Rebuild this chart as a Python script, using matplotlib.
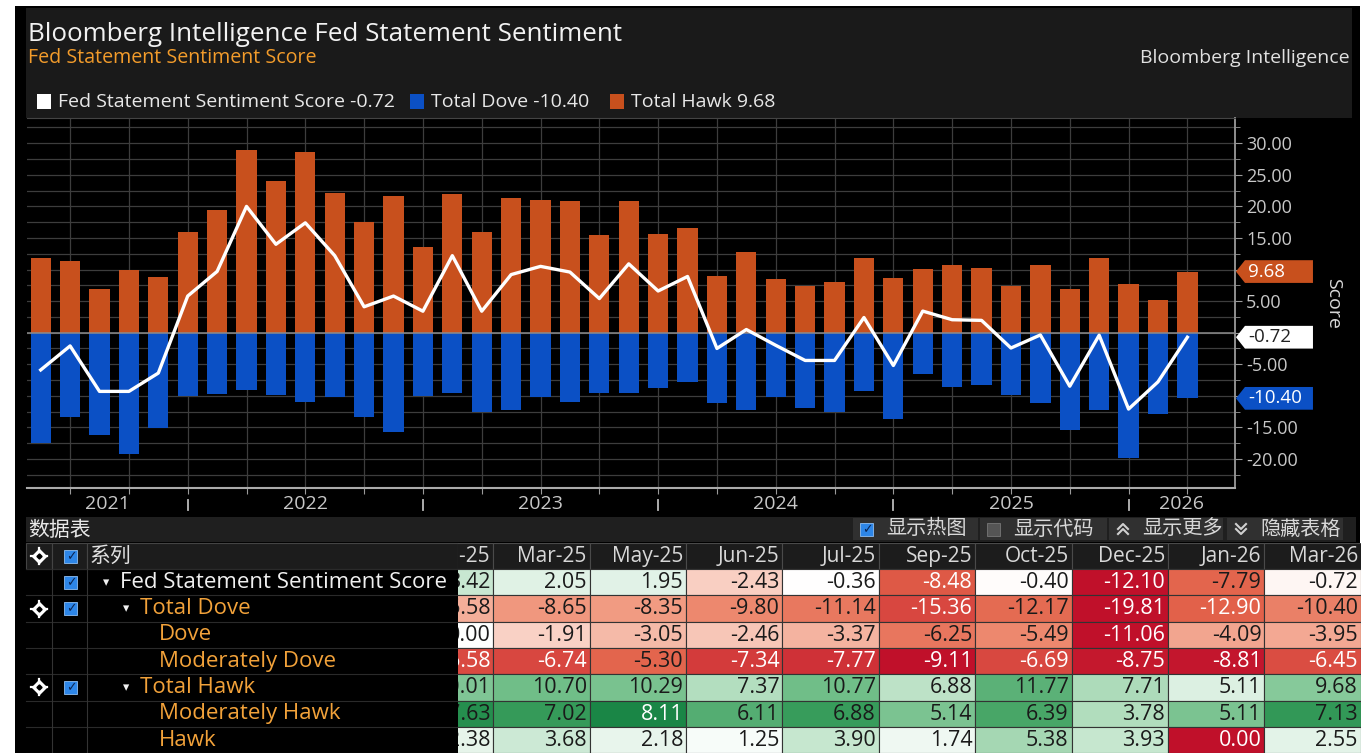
import numpy as np
import matplotlib.pyplot as plt
from matplotlib.colors import LinearSegmentedColormap, TwoSlopeNorm
from matplotlib.patches import Rectangle, Polygon
from matplotlib.transforms import blended_transform_factory

plt.rcParams['font.family'] = ['Open Sans', 'DejaVu Sans']
CJK = ['Noto Sans CJK SC', 'DejaVu Sans']

# ---------------- data ----------------
meetings = ['Apr-21', 'Jun-21', 'Jul-21', 'Sep-21', 'Nov-21', 'Dec-21',
            'Jan-22', 'Mar-22', 'May-22', 'Jun-22', 'Jul-22', 'Sep-22', 'Nov-22', 'Dec-22',
            'Feb-23', 'Mar-23', 'May-23', 'Jun-23', 'Jul-23', 'Sep-23', 'Nov-23', 'Dec-23',
            'Jan-24', 'Mar-24', 'May-24', 'Jun-24', 'Jul-24', 'Sep-24', 'Nov-24', 'Dec-24',
            'Jan-25', 'Mar-25', 'May-25', 'Jun-25', 'Jul-25', 'Sep-25', 'Oct-25', 'Dec-25',
            'Jan-26', 'Mar-26']

# (Apr-21 .. Dec-24)
hawk_early = [11.8, 11.4, 6.9, 9.9, 8.8, 16.0,
              19.5, 29.0, 24.0, 28.6, 22.2, 17.6, 21.6, 13.5,
              22.0, 16.0, 21.4, 21.0, 20.8, 15.4, 20.8, 15.6,
              16.6, 9.0, 12.8, 8.5, 7.4, 8.1, 11.8, 8.6]
dove_early = [-17.5, -13.4, -16.2, -19.2, -15.1, -10.1,
              -9.7, -9.0, -9.8, -11.0, -10.2, -13.4, -15.8, -10.1,
              -9.6, -12.5, -12.2, -10.2, -11.0, -9.6, -9.6, -8.8,
              -7.8, -11.2, -12.2, -10.2, -11.9, -12.6, -9.2, -13.6]
score_early = [-5.9, -2.1, -9.3, -9.3, -6.4, 5.8,
               9.7, 20.0, 14.0, 17.4, 12.2, 4.1, 5.8, 3.4,
               12.2, 3.4, 9.2, 10.5, 9.6, 5.4, 10.9, 6.6,
               8.9, -2.5, 0.5, -2.0, -4.4, -4.4, 2.4, -5.2]

# data table (Jan-25 .. Mar-26)
table_cols = meetings[30:]
tbl_score = [3.42, 2.05, 1.95, -2.43, -0.36, -8.48, -0.40, -12.10, -7.79, -0.72]
tbl_total_dove = [-6.58, -8.65, -8.35, -9.80, -11.14, -15.36, -12.17, -19.81, -12.90, -10.40]
tbl_dove = [0.00, -1.91, -3.05, -2.46, -3.37, -6.25, -5.49, -11.06, -4.09, -3.95]
tbl_mod_dove = [-6.58, -6.74, -5.30, -7.34, -7.77, -9.11, -6.69, -8.75, -8.81, -6.45]
tbl_total_hawk = [10.01, 10.70, 10.29, 7.37, 10.77, 6.88, 11.77, 7.71, 5.11, 9.68]
tbl_mod_hawk = [7.63, 7.02, 8.11, 6.11, 6.88, 5.14, 6.39, 3.78, 5.11, 7.13]
tbl_hawk = [2.38, 3.68, 2.18, 1.25, 3.90, 1.74, 5.38, 3.93, 0.00, 2.55]
row_labels = ['Fed Statement Sentiment Score', 'Total Dove', 'Dove', 'Moderately Dove',
              'Total Hawk', 'Moderately Hawk', 'Hawk']

hawk = hawk_early + tbl_total_hawk
dove = dove_early + tbl_total_dove
score = score_early + tbl_score
table_rows = [tbl_score, tbl_total_dove, tbl_dove, tbl_mod_dove,
              tbl_total_hawk, tbl_mod_hawk, tbl_hawk]

# ---------------- style ----------------
ORANGE = '#c8501d'
BLUE = '#0b50c5'
ORANGE_TXT = '#f2a23a'
GRID = '#3d3d3d'
W, H = 1370, 753

fig = plt.figure(figsize=(W / 100, H / 100), dpi=100, facecolor='white')

# background layer in pixel coordinates
bg = fig.add_axes([0, 0, 1, 1], zorder=0)
bg.set_xlim(0, W)
bg.set_ylim(H, 0)
bg.axis('off')


def box(x, y, w, h, fc, ec='none', lw=0, z=1):
    bg.add_patch(Rectangle((x, y), w, h, facecolor=fc, edgecolor=ec, linewidth=lw, zorder=z))


box(15, 6, 1345, 747, '#000000', z=0)
box(26, 8, 1326, 110, '#1a1a1a')

bg.text(28, 34, 'Bloomberg Intelligence Fed Statement Sentiment', fontsize=18.7,
        color='#f2f2f2', va='center')
bg.text(28, 58, 'Fed Statement Sentiment Score', fontsize=14.1, color='#f39c2b', va='center')
bg.text(1350, 58, 'Bloomberg Intelligence', fontsize=14, color='#e0e0e0', va='center', ha='right')

legend_items = [('Fed Statement Sentiment Score', score[-1], 'white', 37),
                ('Total Dove', dove[-1], BLUE, 410),
                ('Total Hawk', hawk[-1], ORANGE, 610)]
for name, v, c, x0 in legend_items:
    box(x0, 94, 14, 15, c, z=2)
    bg.text(x0 + 21, 101.5, f'{name} {v:.2f}', fontsize=14, color='#e8e8e8', va='center')

# ---------------- chart ----------------
ax = fig.add_axes([27 / W, (H - 488) / H, (1235 - 27) / W, 370 / H], zorder=2)
ax.set_facecolor('black')
x = np.arange(len(meetings))
ax.bar(x, hawk, 0.69, color=ORANGE, zorder=2)
ax.bar(x, dove, 0.69, color=BLUE, zorder=2)
ax.axhline(0, color='#8c8c8c', lw=1.1, zorder=3)
ax.plot(x, score, color='white', lw=2.4, zorder=4)

tag_vals = [hawk[-1], score[-1], dove[-1]]
major = np.arange(-20, 31, 5)
ax.set_yticks(major)
ax.set_yticklabels(['' if min(abs(m - t) for t in tag_vals) < 2.5 else f'{m:.2f}' for m in major])
ax.set_yticks(np.arange(-22.5, 34, 5), minor=True)
ax.yaxis.tick_right()
ax.set_xticks(x[1::2])
ax.grid(axis='y', which='both', color=GRID, lw=0.9)
ax.grid(axis='x', which='major', color=GRID, lw=0.9)
ax.set_axisbelow(True)
ax.tick_params(axis='x', length=4, color='#9a9a9a', labelbottom=False)
ax.tick_params(axis='y', which='major', length=5, color='#9a9a9a', labelcolor='#c8c8c8',
               labelsize=13, pad=3)
ax.tick_params(axis='y', which='minor', length=3.5, color='#9a9a9a')
ax.spines['left'].set_visible(False)
ax.spines['top'].set_color('#444444')
ax.spines['right'].set_color('#9a9a9a')
ax.spines['right'].set_linewidth(1.3)
ax.spines['bottom'].set_color('#aaaaaa')
ax.spines['bottom'].set_linewidth(1.5)
ax.set_ylabel('Score', rotation=270, color='#d8d8d8', fontsize=14, va='center', ha='center')
ax.yaxis.set_label_coords(1.081, 0.5)

XL = (-0.466, 40.62)
bt = blended_transform_factory(ax.transData, ax.transAxes)
years = [int('20' + m[-2:]) for m in meetings]
bounds = [i for i in range(len(years) - 1) if years[i + 1] != years[i]]
edges = [XL[0]] + bounds + [XL[1]]
for j, yr in enumerate(sorted(set(years))):
    ax.text((edges[j] + edges[j + 1]) / 2, -0.043, str(yr), transform=bt, ha='center',
            va='center', fontsize=14, color='#c8c8c8', clip_on=False)
for b in bounds:
    ax.plot([b, b], [-0.033, -0.060], transform=bt, color='#bbbbbb', lw=1.3, clip_on=False)

# last-value tags on the right axis
tt = blended_transform_factory(ax.transAxes, ax.transData)
for v, fc, tc in [(hawk[-1], ORANGE, 'white'), (score[-1], 'white', '#222222'),
                  (dove[-1], BLUE, 'white')]:
    x0, xb, x1, h = 1.0008, 1.0008 + 9 / 1208, 1.0008 + 77 / 1208, 1.8
    ax.add_patch(Polygon([(x0, v), (xb, v + h), (x1, v + h), (x1, v - h), (xb, v - h)],
                         closed=True, transform=tt, facecolor=fc, edgecolor='none',
                         clip_on=False, zorder=5))
    ax.text(x0 + 12 / 1208, v, f'{v:.2f}', transform=tt, color=tc, fontsize=13.5,
            va='center', ha='left', clip_on=False, zorder=6)

ax.set_xlim(*XL)
ax.set_ylim(-24.6, 34.0)

# ---------------- data table ----------------
ROW_Y0, ROW_H = 569, 26.3
box(26, 517, 1330, 25, '#1f1f1f')
bg.text(28, 530, '数据表', family=CJK, fontsize=15, color='#e8e8e8', va='center')


def icon(xc, yc):
    bg.plot([xc - 8, xc + 8], [yc, yc], color='white', lw=1.6, zorder=3)
    bg.plot([xc, xc], [yc - 8, yc + 8], color='white', lw=1.6, zorder=3)
    bg.plot(xc, yc, marker='D', ms=7, mfc='white', mec='white', zorder=4)
    bg.plot(xc, yc, marker='D', ms=2.6, mfc='black', mec='black', zorder=5)


def checkbox(xc, yc, fc='#2d86e8', check=True):
    box(xc - 6.5, yc - 6.5, 13, 13, fc, '#8fbff2' if check else '#777777', 0.6, z=3)
    if check:
        bg.text(xc, yc + 0.5, '\u2713', family='DejaVu Sans', fontsize=9, weight='bold',
                color='#0b2552', ha='center', va='center', zorder=4)


buttons = [(853, 125, '显示热图', 'on'), (980, 127, '显示代码', 'off'),
           (1109, 114, '显示更多', 'up'), (1227, 116, '隐藏表格', 'down')]
for bx, bw, label, kind in buttons:
    box(bx, 518, bw, 22, '#303030', z=2)
    cx, cy = bx + 14, 529
    if kind == 'on':
        checkbox(cx, cy)
    elif kind == 'off':
        checkbox(cx, cy, fc='#555555', check=False)
    else:
        s = -1 if kind == 'up' else 1
        for off in (-2.5, 2.5):
            bg.plot([cx - 5, cx, cx + 5], [cy + off - 2.5 * s, cy + off + 2.5 * s, cy + off - 2.5 * s],
                    color='#d0d0d0', lw=1.5, zorder=3)
    bg.text(bx + 33, 529, label, family=CJK, fontsize=14.5, color='#d8d8d8', va='center', zorder=3)

# left part of the table
for x0, x1 in [(26, 52), (52, 87), (87, 457.6)]:
    box(x0, 543, x1 - x0, 26, '#1c1c1c', '#444444', 0.8, z=2)
icon(39, 556)
checkbox(71, 556)
bg.text(90, 556, '系列', family=CJK, fontsize=15, color='#e0e0e0', va='center', zorder=3)
for i in range(len(row_labels) + 1):
    bg.plot([26, 457.6], [ROW_Y0 + ROW_H * i] * 2, color='#2a2a2a', lw=0.8, zorder=2)
for xv in (52, 87):
    bg.plot([xv, xv], [ROW_Y0, H], color='#333333', lw=0.8, zorder=2)

# (level, has caret, has icon, has checkbox) per row
row_style = [(0, True, False, True), (1, True, True, True), (2, False, False, False),
             (2, False, False, False), (1, True, True, True), (2, False, False, False),
             (2, False, False, False)]
text_x = {0: 120, 1: 140, 2: 159}
for i, (label, (lvl, caret, ic, cb)) in enumerate(zip(row_labels, row_style)):
    yc = ROW_Y0 + ROW_H * i + 13.2
    col = '#f0f0f0' if lvl == 0 else ORANGE_TXT
    if ic:
        icon(39, yc)
    if cb:
        checkbox(71, yc)
    if caret:
        bg.text(text_x[lvl] - 17, yc, '\u25be', family='DejaVu Sans', fontsize=9,
                color='#f0f0f0', va='center', zorder=3)
    bg.text(text_x[lvl], yc, label, fontsize=16, color=col, va='center', zorder=3)

# heat-map part (clipped on its left edge, as in the screenshot)
tb = fig.add_axes([457.6 / W, 0, (1360.8 - 457.6) / W, (H - 543) / H], zorder=3)
tb.set_xlim(457.6, 1360.8)
tb.set_ylim(H, 543)
tb.axis('off')

cmap = LinearSegmentedColormap.from_list('heat', [
    (0.0, '#c0102a'), (0.075, '#d2383a'), (0.175, '#e2624a'), (0.275, '#f0947a'),
    (0.4, '#f8cbbd'), (0.5, '#ffffff'), (0.6, '#dcf0e2'), (0.7, '#aadab7'),
    (0.8, '#72bf8a'), (0.9, '#3c9f5e'), (1.0, '#1a8646')])
row_norms = [TwoSlopeNorm(-0.3, -12.10, 13.0), TwoSlopeNorm(0.0, -19.81, 20.0),
             TwoSlopeNorm(0.0, -11.06, 11.0), TwoSlopeNorm(1.4, -9.11, 10.0),
             TwoSlopeNorm(2.33, 0.0, 16.2), TwoSlopeNorm(1.2, 0.0, 8.11),
             TwoSlopeNorm(0.75, 0.0, 11.8)]

CW = 96.39
for k, colname in enumerate(table_cols):
    right = 493.3 + CW * k
    left = right - CW
    tb.add_patch(Rectangle((left, 543), CW, 26, facecolor='#1c1c1c', edgecolor='#4a4a4a', lw=0.8))
    tb.text(right - 3, 556.5, colname, ha='right', va='center', fontsize=15,
            color='#d8d8d8', clip_on=True)
    for i, vals in enumerate(table_rows):
        v = vals[k]
        n = float(row_norms[i](v))
        y0 = ROW_Y0 + ROW_H * i
        tb.add_patch(Rectangle((left, y0), CW, ROW_H, facecolor=cmap(n),
                               edgecolor='#333333', lw=0.8))
        tc = 'white' if (n <= 0.18 or n >= 0.975) else '#1a1a1a'
        tb.text(right - 3, y0 + 13.6, f'{v:.2f}', ha='right', va='center', fontsize=15.5,
                color=tc, clip_on=True)

fig.savefig('out.png', dpi=100, facecolor=fig.get_facecolor())
